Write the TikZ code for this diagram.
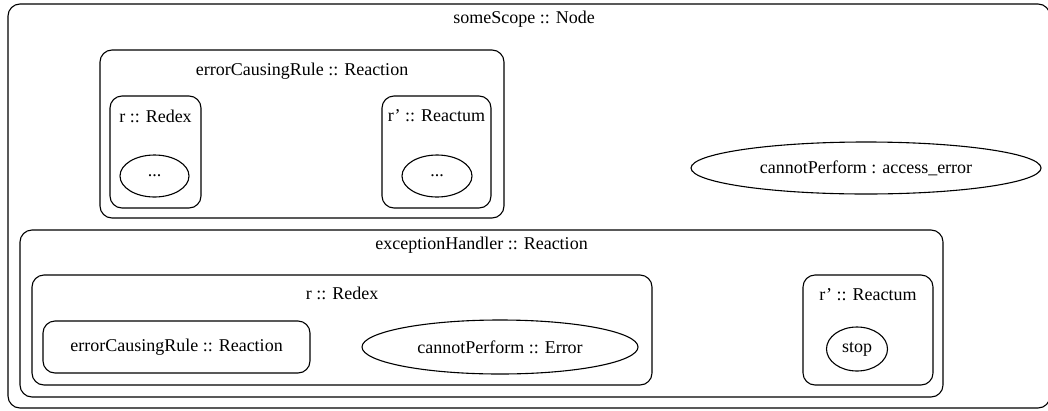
\documentclass[tikz,border=0pt]{standalone}
\usepackage{fontspec}
\setmainfont{Liberation Serif}
\usetikzlibrary{shapes.geometric}

\tikzset{
  cluster/.style={draw, line width=1.1pt, rounded corners=12pt},
  clabel/.style={inner sep=0pt, font=\fontsize{18}{20}\selectfont},
  elem/.style={draw, ellipse, line width=1.1pt, inner sep=0pt, font=\fontsize{18}{20}\selectfont},
  rnode/.style={draw, rectangle, rounded corners=12pt, line width=1.1pt, inner sep=0pt, font=\fontsize{18}{20}\selectfont}
}

\begin{document}
\begin{tikzpicture}[x=1pt, y=-1pt]
  \useasboundingbox (0,0) rectangle (1048,410);
  \draw[cluster] (8,4) rectangle (1050,408);
  \node[clabel] (scope) at (524,19) {someScope :: Node};

  \draw[cluster] (100,50) rectangle (504,218);
  \node[clabel] (ecr) at (302,71) {errorCausingRule :: Reaction};
  \draw[cluster] (110,96) rectangle (201,208);
  \node[clabel] (ecrredex) at (155.5,116) {r :: Redex};
  \node[elem, minimum width=69pt, minimum height=42pt] (ecrdots) at (154.5,176) {...};
  \draw[cluster] (382,96) rectangle (491,208);
  \node[clabel] (ecrreactum) at (436.5,116) {r' :: Reactum};
  \node[elem, minimum width=70pt, minimum height=42pt] (ecrdotsb) at (437,176) {...};

  \node[elem, minimum width=350pt, minimum height=52pt] (access) at (866,168) {cannotPerform : access\_error};

  \draw[cluster] (20,230) rectangle (943,397);
  \node[clabel] (handler) at (481.5,245) {exceptionHandler :: Reaction};
  \draw[cluster] (32,275) rectangle (652,385);
  \node[clabel] (hredex) at (342,293) {r :: Redex};
  \node[rnode, minimum width=267pt, minimum height=52pt] (hrule) at (176.5,347) {errorCausingRule :: Reaction};
  \node[elem, minimum width=276pt, minimum height=54pt] (herror) at (500,347) {cannotPerform :: Error};
  \draw[cluster] (803,275) rectangle (933,385);
  \node[clabel] (hreactum) at (868,295) {r' :: Reactum};
  \node[elem, minimum width=61pt, minimum height=44pt] (hstop) at (857,349) {stop};
\end{tikzpicture}
\end{document}
